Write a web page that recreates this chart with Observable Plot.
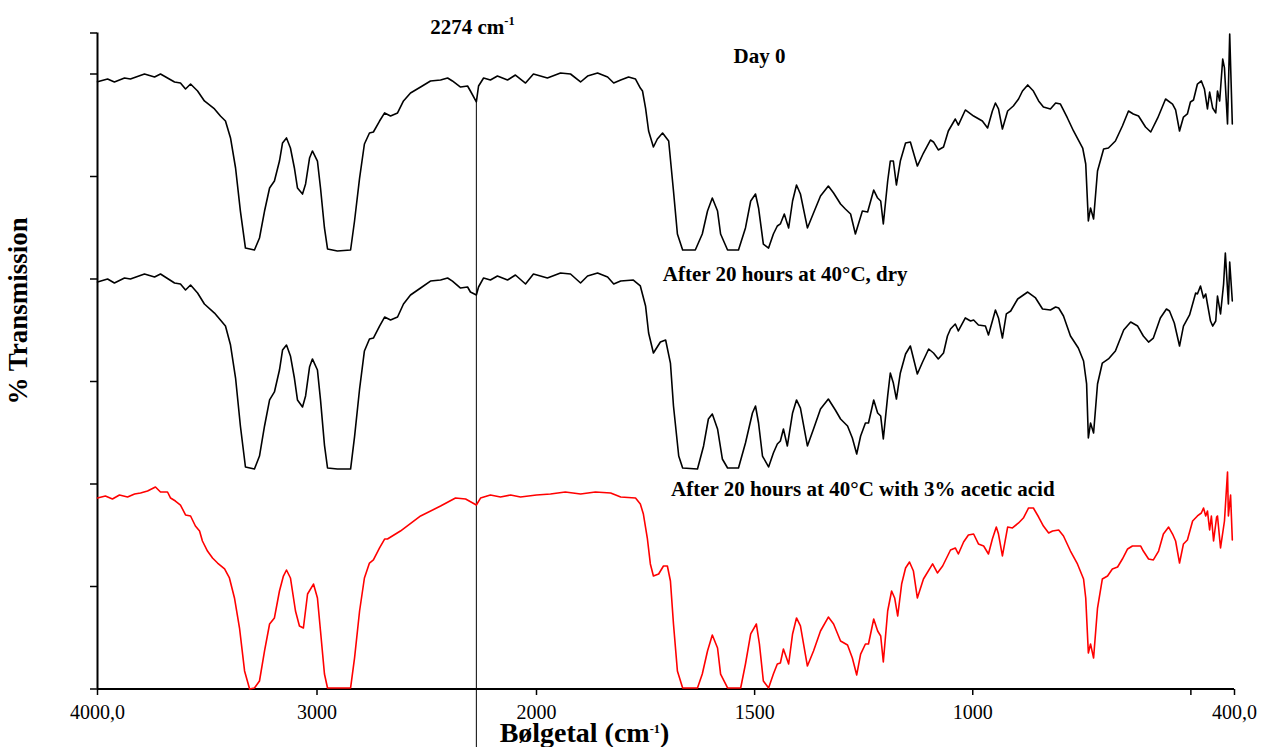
<!DOCTYPE html>
<html><head><meta charset="utf-8">
<script src="https://cdn.jsdelivr.net/npm/d3@7"></script>
<script src="https://cdn.jsdelivr.net/npm/@observablehq/plot@0.6"></script>
<style>html,body{margin:0;padding:0;background:#fff;} svg{display:block}</style>
</head><body><div id="chart"></div>
<script>
// ---- data (wavenumber in cm-1, % transmission on an offset scale) ----
const wnDay0 = [4000,3954,3923,3877,3850,3786,3740,3713,3649,3622,3599,3576,3544,3513,3467,3440,3417,3394,3371,3349,3326,3285,3262,3239,3216,3194,3171,3157,3139,3121,3103,3089,3066,3052,3034,3021,2998,2984,2966,2952,2907,2847,2829,2806,2784,2761,2743,2715,2692,2665,2633,2606,2574,2528,2483,2437,2405,2383,2346,2314,2301,2274,2264,2241,2210,2178,2132,2096,2050,2014,1975,1945,1922,1899,1883,1860,1837,1823,1807,1789,1773,1762,1757,1750,1743,1732,1723,1711,1697,1686,1677,1665,1636,1620,1608,1597,1585,1578,1562,1537,1521,1509,1498,1491,1480,1468,1457,1448,1441,1432,1422,1413,1404,1395,1379,1365,1349,1331,1319,1303,1292,1280,1269,1253,1241,1227,1218,1211,1205,1195,1189,1182,1175,1166,1154,1143,1127,1113,1097,1090,1079,1067,1056,1040,1033,1017,998,978,966,955,948,941,932,920,907,895,886,874,861,849,838,822,810,799,783,769,748,741,735,730,723,714,700,689,673,657,643,632,620,604,592,576,558,542,535,526,517,508,501,494,485,476,469,462,457,450,443,439,434,427,423,416,411,405];
const tDay0 = [59.25,59.51,59.22,59.61,59.51,60.0,59.71,60.0,59.22,59.12,58.54,59.02,58.34,57.37,56.59,55.9,55.41,53.76,50.83,46.63,43.02,42.83,44.0,46.63,48.88,49.56,51.51,53.27,53.76,52.78,50.83,48.88,48.29,49.27,51.8,52.49,51.51,48.88,44.98,42.93,42.73,42.83,45.66,49.85,53.17,54.24,54.34,55.41,56.2,55.9,56.2,57.37,58.15,58.73,59.32,59.41,59.61,59.32,58.73,58.83,58.34,57.27,58.83,59.61,59.41,59.8,59.41,59.9,59.12,60.0,59.61,60.1,60.0,59.22,59.8,60.1,59.71,59.12,59.41,59.71,59.51,58.63,58.34,56.68,54.44,52.88,53.66,54.24,53.46,48.59,44.39,42.83,42.83,44.39,46.63,47.9,46.63,44.39,42.83,42.83,44.98,47.61,48.29,46.93,43.41,43.02,44.39,45.17,45.37,46.34,44.98,47.61,49.17,48.29,44.98,46.44,48.1,49.07,48.39,47.32,46.83,46.34,44.39,46.63,46.54,48.68,47.9,47.61,45.37,49.56,51.51,51.51,49.17,51.51,53.27,53.37,51.02,52.29,53.56,53.37,52.59,52.88,54.44,55.61,55.02,56.49,55.9,55.41,54.73,56.39,57.17,56.59,54.63,56.39,56.88,57.56,58.34,58.93,58.34,57.37,56.78,56.59,57.17,57.07,55.71,54.44,52.78,51.22,45.66,46.93,45.85,50.54,52.68,52.78,53.46,54.93,56.39,56.1,55.9,54.83,54.34,55.71,57.56,57.07,56.49,54.44,55.8,56.1,57.27,57.46,59.02,59.32,58.54,56.59,58.24,56.68,56.2,58.34,57.37,61.46,60.59,55.12,63.9,55.12];

const wnDry = [4000,3954,3923,3877,3850,3786,3740,3713,3649,3622,3599,3576,3544,3513,3467,3440,3417,3394,3371,3349,3326,3285,3262,3239,3216,3194,3171,3157,3139,3121,3103,3089,3066,3052,3034,3021,2998,2984,2966,2952,2907,2847,2829,2806,2784,2761,2743,2715,2692,2665,2633,2606,2574,2528,2483,2437,2405,2383,2346,2314,2301,2274,2264,2241,2210,2178,2132,2096,2050,2014,1975,1945,1922,1899,1883,1860,1837,1823,1807,1778,1762,1750,1743,1732,1716,1704,1693,1686,1674,1665,1631,1617,1606,1597,1585,1574,1562,1537,1521,1505,1498,1491,1482,1468,1457,1448,1441,1434,1425,1413,1404,1395,1379,1365,1349,1331,1315,1303,1287,1276,1266,1257,1246,1239,1227,1218,1211,1205,1195,1189,1182,1175,1166,1154,1143,1127,1115,1101,1090,1079,1067,1058,1051,1040,1033,1017,1005,998,987,971,964,955,948,941,932,923,913,897,874,856,840,822,810,803,792,776,758,746,739,735,730,723,714,703,689,673,654,638,622,609,597,586,570,556,549,538,526,517,503,489,485,478,471,466,462,455,450,443,439,432,425,421,414,411,405];
const tDry = [39.71,40.0,39.61,40.1,40.0,40.49,40.2,40.49,39.61,39.51,38.93,39.41,38.63,37.56,36.68,36.0,35.41,33.56,30.34,25.66,21.66,21.46,22.73,25.66,28.2,28.98,31.12,33.07,33.56,32.49,30.34,28.2,27.51,28.59,31.41,32.2,31.12,28.2,23.8,21.56,21.46,21.46,24.59,29.27,32.98,34.15,34.24,35.41,36.29,36.0,36.29,37.56,38.44,39.12,39.8,39.9,40.1,39.8,39.12,39.22,38.73,38.44,39.22,40.1,39.9,40.29,39.9,40.39,39.51,40.49,40.1,40.59,40.49,39.61,40.29,40.59,40.2,39.51,39.8,39.9,39.32,37.37,34.73,32.78,33.85,34.05,31.8,27.61,22.73,21.56,21.46,23.71,26.34,26.83,25.37,22.44,21.56,21.56,24.0,26.93,27.61,25.95,22.73,21.66,23.02,23.9,24.2,25.37,23.71,26.93,28.2,27.41,23.71,25.37,27.32,28.29,27.22,26.34,25.66,24.49,22.93,24.68,25.95,25.95,28.2,26.93,26.63,24.39,28.59,30.83,29.85,28.29,30.83,32.68,33.46,30.73,31.9,33.17,32.78,32.2,32.78,34.44,35.12,35.61,34.93,36.2,35.9,36.0,35.51,35.41,34.54,35.9,36.98,36.2,34.24,36.59,36.88,38.05,38.73,38.15,37.07,36.98,37.27,37.17,36.39,34.44,33.27,32.0,29.76,24.49,25.95,24.98,29.76,31.8,32.2,32.98,35.02,35.8,35.41,34.44,33.85,34.24,36.2,37.07,36.88,35.71,33.46,35.41,36.49,38.63,38.54,39.32,38.15,38.54,37.56,35.9,35.41,35.9,38.34,36.59,39.51,42.54,37.56,41.66,37.85];

const wnAcid = [4000,3964,3932,3900,3863,3831,3804,3772,3736,3713,3681,3667,3645,3622,3599,3576,3554,3535,3522,3499,3476,3453,3421,3399,3376,3353,3330,3307,3285,3262,3239,3216,3194,3171,3153,3139,3121,3098,3080,3062,3043,3016,2998,2984,2966,2952,2907,2847,2829,2806,2784,2761,2743,2715,2692,2679,2620,2528,2437,2369,2323,2274,2255,2210,2164,2118,2073,2000,1968,1934,1899,1865,1830,1807,1773,1762,1755,1746,1739,1732,1720,1709,1700,1693,1686,1677,1665,1631,1620,1608,1597,1585,1578,1562,1532,1521,1509,1496,1489,1480,1468,1457,1448,1441,1434,1422,1413,1404,1395,1379,1365,1349,1331,1319,1303,1287,1276,1266,1257,1246,1239,1227,1218,1211,1205,1195,1186,1179,1172,1163,1154,1145,1136,1127,1113,1092,1081,1069,1051,1040,1033,1021,1010,998,987,975,964,955,946,941,932,920,909,895,884,872,861,849,838,826,817,803,792,776,760,746,741,735,730,723,714,703,691,680,668,657,645,634,615,609,597,586,574,563,551,542,535,526,517,508,496,485,476,471,466,462,457,453,448,441,439,432,423,416,414,409,405];
const tAcid = [18.63,18.83,18.54,18.93,18.73,19.02,19.12,19.32,19.71,19.22,19.22,18.63,18.34,17.95,16.98,16.88,15.9,15.41,14.44,13.46,12.78,12.29,11.71,10.83,8.88,5.95,1.76,0.0,0.1,0.78,3.71,6.34,6.93,9.56,11.02,11.61,10.83,7.61,6.15,5.95,9.27,10.24,8.88,5.66,1.46,0.1,0.1,0.1,3.02,7.61,10.83,12.29,12.59,13.76,14.63,14.63,15.41,16.88,17.85,18.63,18.54,17.95,18.63,18.93,18.73,18.93,18.73,18.93,19.02,19.22,19.02,19.22,19.12,18.73,18.63,18.05,17.07,14.73,12.2,11.02,11.22,12.0,12.0,10.54,6.34,1.76,0.1,0.1,1.46,3.71,5.27,4.0,1.46,0.1,0.1,2.44,5.37,6.34,4.39,0.78,0.1,1.46,2.44,2.54,3.9,2.44,5.37,6.93,6.15,2.24,3.71,5.66,7.02,6.34,4.68,4.29,3.02,1.37,3.41,4.39,4.39,6.83,5.66,5.17,2.63,7.61,9.56,8.88,7.12,10.24,11.8,12.39,11.51,8.88,10.73,12.2,11.32,12.0,13.56,13.76,13.17,14.34,15.02,15.12,14.15,13.95,13.17,14.63,15.8,15.12,12.98,15.8,15.71,16.2,16.68,17.66,17.66,16.78,15.9,15.22,15.41,15.51,14.93,13.46,12.2,10.73,8.88,3.51,4.39,3.02,7.9,10.73,11.02,11.71,11.9,12.68,13.66,13.95,13.95,13.46,12.68,12.59,13.46,15.12,15.8,15.12,14.44,12.29,14.15,14.54,16.39,16.88,17.17,17.66,16.88,17.37,15.51,16.88,14.44,16.78,16.88,13.76,16.39,21.17,16.88,18.93,14.54];

const seriesNames = ["Day 0", "After 20 hours at 40°C, dry", "After 20 hours at 40°C with 3% acetic acid"];
const seriesColors = ["#000000", "#000000", "#ff0000"];
const xTicks = [4000, 3000, 2000, 1500, 1000, 500, 400];
const yTicks = [0, 10, 20, 30, 40, 50, 60, 64];
const markerWn = 2274;
const markerLabel = "2274 cm⁻¹";
const xLabel = "Bølgetal (cm⁻¹)";
const yLabel = "% Transmission";

const rows = (wn, t) => wn.map((w, i) => ({wn: w, t: t[i]}));
const day0 = rows(wnDay0, tDay0), dry = rows(wnDry, tDry), acid = rows(wnAcid, tAcid);
const markerTop = day0.find(d => d.wn === markerWn).t;

const font = "'Liberation Serif', 'Times New Roman', serif";
const tickFmt = d => d === 4000 ? "4000,0" : d === 400 ? "400,0" : d === 500 ? "" : String(d);

const chart = Plot.plot({
  width: 1270, height: 747,
  marginLeft: 97, marginRight: 36, marginTop: 32, marginBottom: 58,
  style: {fontFamily: font, fontSize: "20px", color: "#000", background: "#fff", overflow: "visible"},
  x: {type: "linear", domain: [4000, 2000, 400], range: [97, 536, 1234]},
  y: {domain: [0, 64], range: [688.5, 32.5]},
  marks: [
    Plot.axisX({ticks: xTicks, tickFormat: tickFmt, tickSize: 6, tickPadding: 9, fontSize: 20, fontFamily: font, fontVariant: "normal", strokeWidth: 1.5, label: null}),
    Plot.axisY({ticks: yTicks, tickFormat: () => "", tickSize: 7, strokeWidth: 1.5, label: null}),
    Plot.ruleY([0], {strokeWidth: 2}),
    Plot.ruleX([4000], {y1: 0, y2: 64, strokeWidth: 2}),
    Plot.ruleX([markerWn], {y1: markerTop, y2: -6, strokeWidth: 1}),
    Plot.line(day0, {x: "wn", y: "t", stroke: seriesColors[0], strokeWidth: 1.6}),
    Plot.line(dry, {x: "wn", y: "t", stroke: seriesColors[1], strokeWidth: 1.6}),
    Plot.line(acid, {x: "wn", y: "t", stroke: seriesColors[2], strokeWidth: 1.6}),
    Plot.text([seriesNames[0]], {x: 1489, y: 61.1, text: d => d, fontWeight: "bold", fontSize: 21, lineAnchor: "bottom"}),
    Plot.text([seriesNames[1]], {x: 1430, y: 39.8, text: d => d, fontWeight: "bold", fontSize: 21, lineAnchor: "bottom"}),
    Plot.text([seriesNames[2]], {x: 1252, y: 18.8, text: d => d, fontWeight: "bold", fontSize: 21, lineAnchor: "bottom"}),
    Plot.text([markerLabel], {x: 2292, y: 63.95, text: d => d, fontWeight: "bold", fontSize: 21, lineAnchor: "bottom"}),
    Plot.text([xLabel], {x: 1890, y: -5.15, text: d => d, fontWeight: "bold", fontSize: 28, lineAnchor: "bottom"}),
    Plot.text([yLabel], {x: 4360, y: 36.9, rotate: -90, text: d => d, fontWeight: "bold", fontSize: 27, lineAnchor: "middle"})
  ]
});

// render superscripts as raised tspans
const NS = "http://www.w3.org/2000/svg";
chart.querySelectorAll("text").forEach(t => {
  const s = t.textContent;
  if (!s.includes("⁻¹") || t.querySelector("tspan")) return;
  const fs = parseFloat(t.getAttribute("font-size")) || parseFloat(getComputedStyle(t).fontSize) || 20;
  const [a, b] = s.split("⁻¹");
  t.textContent = "";
  const p1 = document.createElementNS(NS, "tspan"); p1.textContent = a; t.appendChild(p1);
  const p2 = document.createElementNS(NS, "tspan"); p2.textContent = "-1";
  p2.setAttribute("font-size", (fs * 0.62).toFixed(1)); p2.setAttribute("dy", (-fs * 0.42).toFixed(1));
  t.appendChild(p2);
  if (b) { const p3 = document.createElementNS(NS, "tspan"); p3.textContent = b; p3.setAttribute("dy", (fs * 0.42).toFixed(1)); t.appendChild(p3); }
});
document.getElementById("chart").appendChild(chart);
</script>
</body></html>
